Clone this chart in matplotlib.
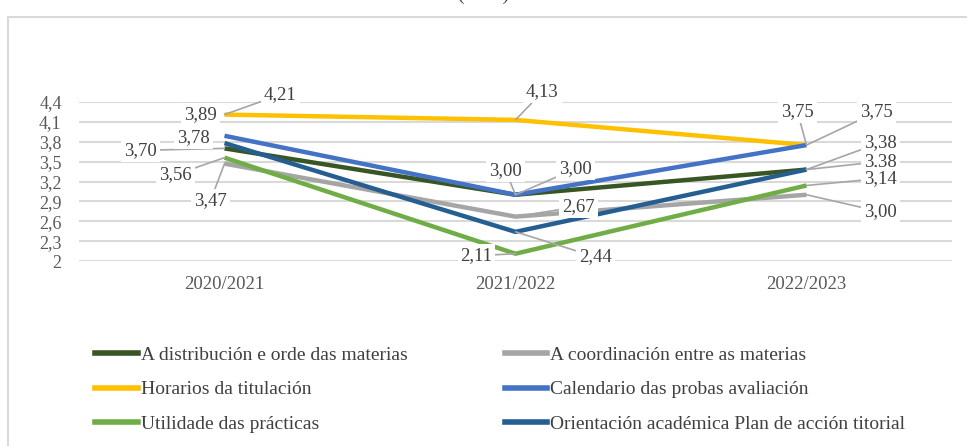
import matplotlib
matplotlib.use("Agg")
import matplotlib.pyplot as plt
from matplotlib.lines import Line2D
from matplotlib.patches import Rectangle

plt.rcParams['font.family'] = ['Liberation Serif', 'DejaVu Serif']

years = ["2020/2021", "2021/2022", "2022/2023"]
series_names = [
    "A distribución e orde das materias",
    "A coordinación entre as materias",
    "Horarios da titulación",
    "Calendario das probas avaliación",
    "Utilidade das prácticas",
    "Orientación académica Plan de acción titorial",
]
distribucion = [3.70, 3.00, 3.38]
coordinacion = [3.47, 2.67, 3.00]
horarios = [4.21, 4.13, 3.75]
calendario = [3.89, 3.00, 3.75]
utilidade = [3.56, 2.11, 3.14]
orientacion = [3.78, 2.44, 3.38]
y_ticks = [2, 2.3, 2.6, 2.9, 3.2, 3.5, 3.8, 4.1, 4.4]
y_tick_labels = ["2", "2,3", "2,6", "2,9", "3,2", "3,5", "3,8", "4,1", "4,4"]

values = [distribucion, coordinacion, horarios, calendario, utilidade, orientacion]
colors = ["#375623", "#a5a5a5", "#ffc000", "#4472c4", "#70ad47", "#255e91"]

# label offsets in pixels (dx, dy up) and whether a leader line is drawn
offsets = [
    [(-84, -2, True), (-10, 24, True), (74, 8, True)],
    [(-14, -37, True), (63, 10, True), (74, -17, True)],
    [(56, 20, True), (27, 28, True), (-9, 33, True)],
    [(-24, 21, False), (60, 26, True), (70, 33, True)],
    [(-49, -17, True), (-39, -2, True), (74, 7, True)],
    [(-31, 5, False), (80, -25, True), (74, 27, True)],
]

W, H = 967, 446
fig = plt.figure(figsize=(W / 100, H / 100), dpi=100)

# outer chart frame
fig.patches.append(Rectangle((8 / W, -0.05), 1.2, (H - 17) / H + 0.05,
                             transform=fig.transFigure, fill=False,
                             edgecolor="#d9d9d9", lw=1.5, zorder=0))
fig.text(0.5, 1.0 - 4 / H, "(Grao)", ha="center", va="bottom",
         fontsize=14, color="#404040")

left, right, top, bottom = 79, 952, 102, 261
ax = fig.add_axes([left / W, 1 - bottom / H, (right - left) / W, (bottom - top) / H])
x = list(range(len(years)))
for vals, c in zip(values, colors):
    ax.plot(x, vals, color=c, lw=3.2, solid_capstyle="butt", zorder=3)

ax.set_xlim(-0.5, 2.5)
ax.set_ylim(2, 4.4)
ax.set_yticks(y_ticks)
ax.set_yticklabels(y_tick_labels)
ax.set_xticks(x)
ax.set_xticklabels(years)
ax.tick_params(length=0, labelcolor="#595959")
ax.tick_params(axis="x", pad=11, labelsize=13.5)
ax.tick_params(axis="y", pad=12.5, labelsize=13)
ax.grid(axis="y", color="#d9d9d9", lw=1.5, zorder=0)
for s in ax.spines.values():
    s.set_visible(False)

for vals, offs in zip(values, offsets):
    for xi, v, (dx, dy, lead) in zip(x, vals, offs):
        txt = f"{v:.2f}".replace(".", ",")
        kw = {}
        if lead:
            kw["arrowprops"] = dict(arrowstyle="-", color="#a6a6a6", lw=1.2,
                                    shrinkA=0, shrinkB=0)
        ax.annotate(txt, (xi, v), xytext=(dx, dy), textcoords="offset pixels",
                    ha="center", va="center", fontsize=13.5, color="#404040",
                    bbox=dict(boxstyle="square,pad=0.15", fc="white", ec="none"),
                    zorder=5, annotation_clip=False, **kw)

handles = [Line2D([], [], color=c, lw=4) for c in colors]
order = [0, 2, 4, 1, 3, 5]
leg = fig.legend([handles[i] for i in order], [series_names[i] for i in order],
                 ncol=2, loc="upper left", bbox_to_anchor=(95 / W, 1 - 346 / H),
                 frameon=False, fontsize=14, handlelength=2.2, handletextpad=0.15,
                 columnspacing=5.0, labelspacing=0.88, borderpad=0, borderaxespad=0)
for t in leg.get_texts():
    t.set_color("#404040")

fig.savefig("out.png", dpi=100)
